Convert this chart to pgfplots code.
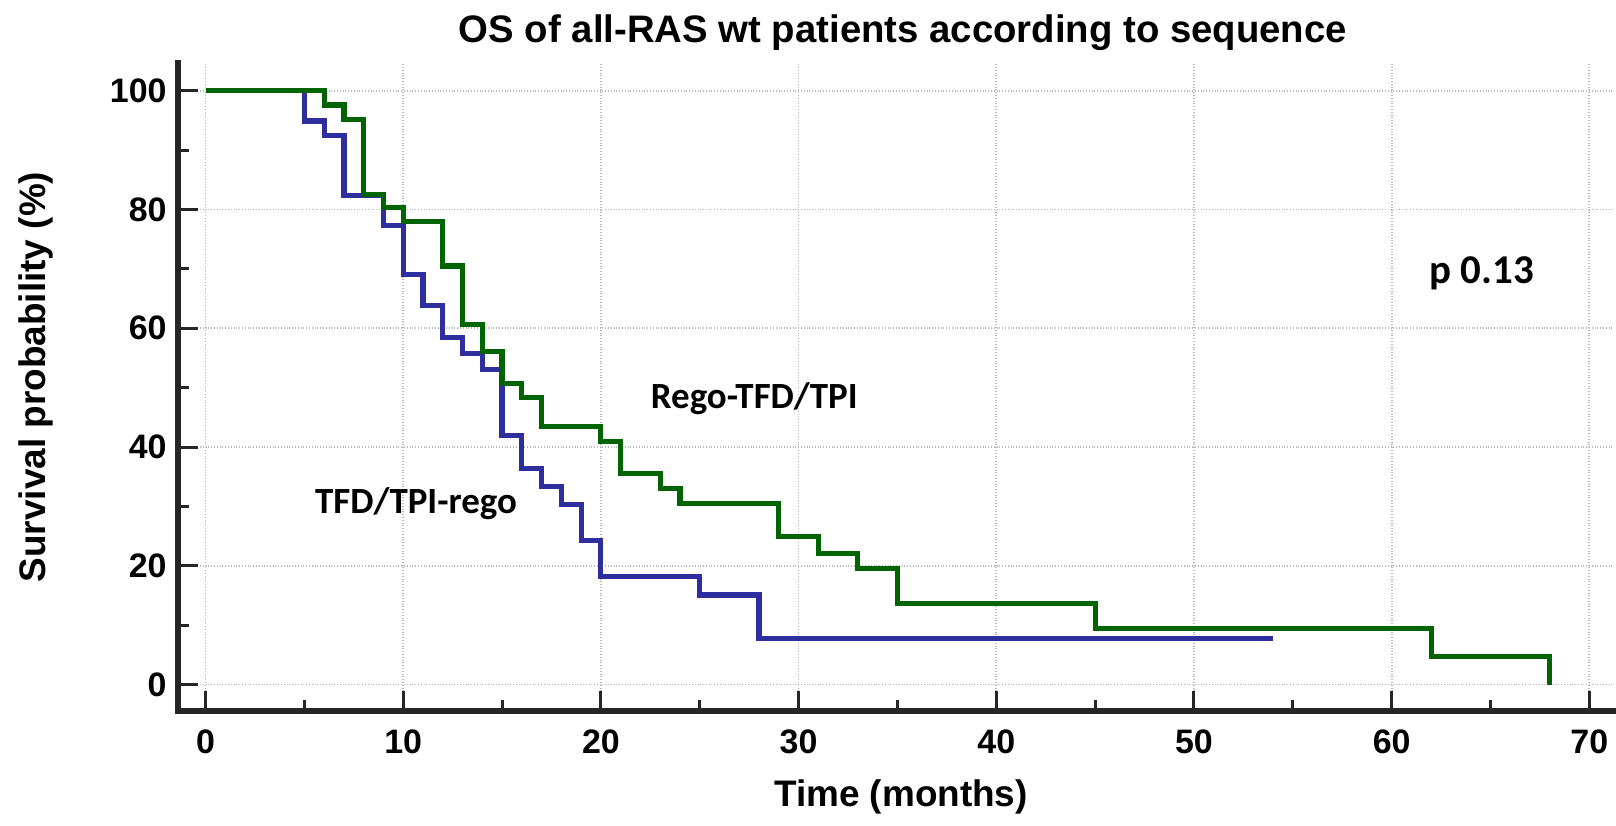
\documentclass[border=0pt]{standalone}
\usepackage{pgfplots}
\pgfplotsset{compat=1.18}
\usepackage{fontspec}
\setmainfont{Liberation Sans}
\newfontfamily\calfont{Carlito}
\definecolor{kmblue}{RGB}{46,46,158}
\definecolor{kmgreen}{RGB}{0,100,0}
\begin{document}
\begin{tikzpicture}
\begin{axis}[
  scale only axis,
  width=719pt, height=324.5pt,
  xmin=-1.41, xmax=71.2,
  ymin=-4.4, ymax=104.7,
  axis lines*=left,
  axis line style={line width=3pt, black!85, line cap=rect},
  xtick={0,10,...,70},
  ytick={0,20,...,100},
  minor xtick={5,15,...,65},
  minor ytick={10,30,...,90},
  tick align=inside,
  major tick length=10pt,
  minor tick length=5.5pt,
  every tick/.style={line width=1.5pt, black!85},
  grid=major,
  major grid style={gray!55, densely dotted, line width=0.9pt},
  /pgf/number format/assume math mode=true,
  ticklabel style={font=\bfseries\fontsize{17}{17}\selectfont},
  xticklabel style={yshift=-6pt},
  yticklabel style={xshift=-2pt},
  clip=false,
]
\addplot[const plot, color=kmblue, line width=2.6pt] coordinates {
(0,100) (5,94.9) (6,92.5) (7,82.4) (9,77.3) (10,69.1) (11,63.8) (12,58.5)
(13,55.8) (14,53.1) (15,42.0) (16,36.4) (17,33.3) (18,30.3) (19,24.2)
(20,18.2) (25,15.1) (28,7.8) (54,7.8)
};
\addplot[const plot, color=kmgreen, line width=2.6pt] coordinates {
(0,100) (6,97.6) (7,95.2) (8,82.6) (9,80.3) (10,78.0) (12,70.5) (13,60.7)
(14,56.1) (15,50.7) (16,48.4) (17,43.4) (20,40.9) (21,35.5) (23,33.0)
(24,30.5) (29,24.9) (31,22.1) (33,19.6) (35,13.7) (45,9.5) (62,4.7) (68,0)
};
\node[anchor=base, font=\bfseries\fontsize{19.2}{19.2}\selectfont] at (axis cs:35.28,108.2) {OS of all-RAS wt patients according to sequence};
\node[font=\bfseries\fontsize{18.5}{18.5}\selectfont] at (axis cs:35.18,-18.9) {Time (months)};
\node[rotate=90, font=\bfseries\fontsize{18.5}{18.5}\selectfont] at (axis cs:-8.58,51.8) {Survival probability (\%)};
\node[anchor=base, font=\calfont\bfseries\fontsize{20.5}{20.5}\selectfont] at (axis cs:64.55,67.5) {p 0.13};
\node[anchor=base, font=\calfont\bfseries\fontsize{18.5}{18.5}\selectfont] at (axis cs:27.76,46.45) {Rego-TFD/TPI};
\node[anchor=base, font=\calfont\bfseries\fontsize{18.5}{18.5}\selectfont] at (axis cs:10.65,28.8) {TFD/TPI-rego};
\end{axis}
\useasboundingbox (-89pt,-57.5pt) rectangle (719pt,356pt);
\end{tikzpicture}
\end{document}
